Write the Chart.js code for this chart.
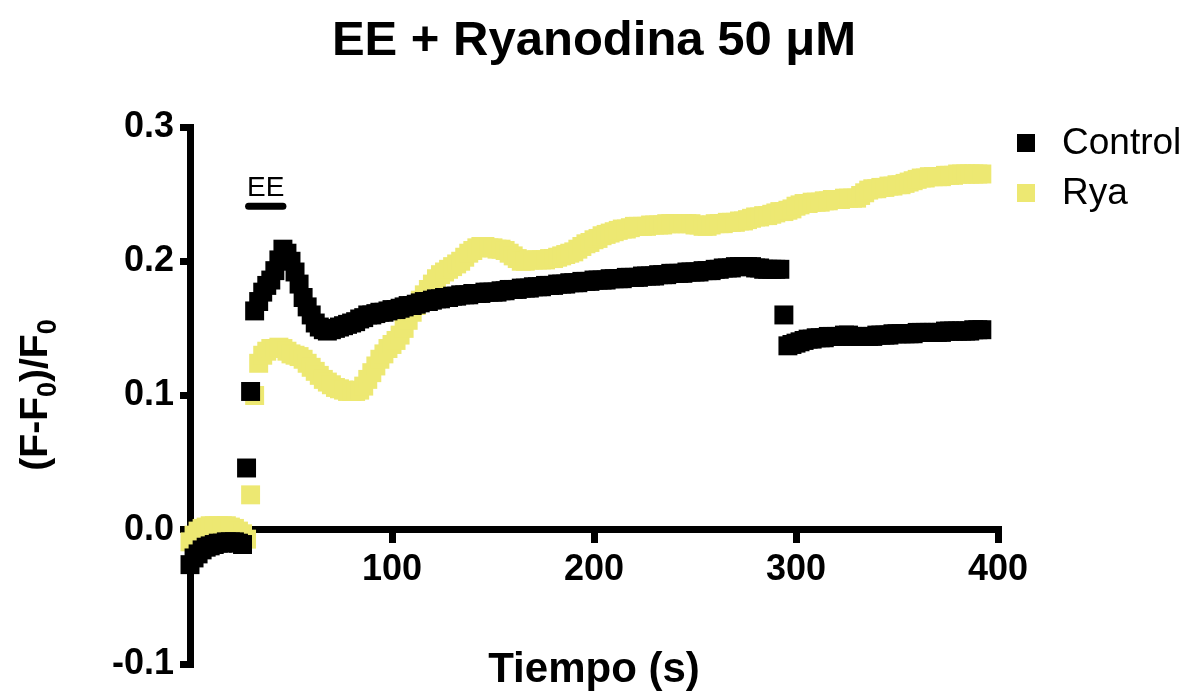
<!DOCTYPE html>
<html>
<head>
<meta charset="utf-8">
<title>EE + Ryanodina 50 μM</title>
<script src="https://cdn.jsdelivr.net/npm/chart.js@4.4.0/dist/chart.umd.min.js"></script>
<style>
    html, body { margin: 0; padding: 0; background: #fff; }
    #wrap { width: 1195px; height: 698px; position: relative; }
</style>
</head>
<body>
<div id="wrap"><canvas id="grafico"></canvas></div>
<script>
const titulo = 'EE + Ryanodina 50 μM';
const nombres = ['Control', 'Rya'];
const colores = ['#000000', '#ede872'];

// tiempo (s), one sample every 2 s
const tiempo = [
    0, 2, 4, 6, 8, 10, 12, 14, 16, 18,
    20, 22, 24, 26, 28, 30, 32, 34, 36, 38,
    40, 42, 44, 46, 48, 50, 52, 54, 56, 58,
    60, 62, 64, 66, 68, 70, 72, 74, 76, 78,
    80, 82, 84, 86, 88, 90, 92, 94, 96, 98,
    100, 102, 104, 106, 108, 110, 112, 114, 116, 118,
    120, 122, 124, 126, 128, 130, 132, 134, 136, 138,
    140, 142, 144, 146, 148, 150, 152, 154, 156, 158,
    160, 162, 164, 166, 168, 170, 172, 174, 176, 178,
    180, 182, 184, 186, 188, 190, 192, 194, 196, 198,
    200, 202, 204, 206, 208, 210, 212, 214, 216, 218,
    220, 222, 224, 226, 228, 230, 232, 234, 236, 238,
    240, 242, 244, 246, 248, 250, 252, 254, 256, 258,
    260, 262, 264, 266, 268, 270, 272, 274, 276, 278,
    280, 282, 284, 286, 288, 290, 292, 294, 296, 298,
    300, 302, 304, 306, 308, 310, 312, 314, 316, 318,
    320, 322, 324, 326, 328, 330, 332, 334, 336, 338,
    340, 342, 344, 346, 348, 350, 352, 354, 356, 358,
    360, 362, 364, 366, 368, 370, 372, 374, 376, 378,
    380, 382, 384, 386, 388, 390, 392
];

// (F-F0)/F0
const control = [
    -0.026, -0.021, -0.018, -0.015, -0.013, -0.012, -0.011, -0.010, -0.010, -0.009,
    -0.009, -0.009, -0.010, -0.011, 0.046, 0.103, 0.163, 0.170, 0.177, 0.182,
    0.186, 0.193, 0.201, 0.209, 0.206, 0.200, 0.192, 0.183, 0.173, 0.166,
    0.160, 0.154, 0.151, 0.149, 0.148, 0.149, 0.150, 0.151, 0.152, 0.153,
    0.154, 0.155, 0.157, 0.158, 0.160, 0.160, 0.161, 0.162, 0.162, 0.163,
    0.164, 0.164, 0.165, 0.166, 0.167, 0.167, 0.168, 0.169, 0.170, 0.170,
    0.171, 0.172, 0.172, 0.173, 0.173, 0.174, 0.174, 0.175, 0.175, 0.175,
    0.176, 0.176, 0.176, 0.177, 0.177, 0.177, 0.177, 0.178, 0.178, 0.179,
    0.179, 0.179, 0.180, 0.180, 0.180, 0.181, 0.181, 0.181, 0.182, 0.182,
    0.182, 0.183, 0.183, 0.183, 0.184, 0.184, 0.184, 0.185, 0.185, 0.185,
    0.186, 0.186, 0.186, 0.186, 0.187, 0.187, 0.187, 0.187, 0.188, 0.188,
    0.188, 0.188, 0.189, 0.189, 0.189, 0.189, 0.190, 0.190, 0.190, 0.191,
    0.191, 0.191, 0.191, 0.192, 0.192, 0.192, 0.192, 0.193, 0.193, 0.193,
    0.194, 0.194, 0.195, 0.195, 0.195, 0.196, 0.196, 0.196, 0.196, 0.196,
    0.195, 0.195, 0.194, 0.194, 0.194, 0.194, 0.194, 0.160, 0.137, 0.138,
    0.139, 0.140, 0.141, 0.142, 0.142, 0.143, 0.143, 0.143, 0.144, 0.144,
    0.144, 0.144, 0.145, 0.145, 0.144, 0.144, 0.144, 0.144, 0.144, 0.144,
    0.145, 0.145, 0.145, 0.145, 0.146, 0.146, 0.146, 0.146, 0.146, 0.146,
    0.147, 0.147, 0.147, 0.147, 0.147, 0.147, 0.147, 0.148, 0.148, 0.148,
    0.148, 0.148, 0.148, 0.148, 0.149, 0.149, 0.149
];

const rya = [
    -0.009, -0.004, -0.001, 0.001, 0.002, 0.003, 0.003, 0.003, 0.003, 0.003,
    0.002, 0.001, -0.001, -0.003, -0.007, 0.026, 0.100, 0.124, 0.130, 0.133,
    0.135, 0.135, 0.136, 0.135, 0.133, 0.131, 0.130, 0.129, 0.127, 0.124,
    0.121, 0.118, 0.115, 0.112, 0.110, 0.108, 0.106, 0.105, 0.104, 0.103,
    0.103, 0.103, 0.104, 0.107, 0.112, 0.117, 0.122, 0.127, 0.131, 0.135,
    0.138, 0.141, 0.145, 0.150, 0.156, 0.162, 0.167, 0.171, 0.175, 0.179,
    0.183, 0.187, 0.190, 0.192, 0.194, 0.196, 0.198, 0.200, 0.203, 0.206,
    0.208, 0.210, 0.211, 0.211, 0.210, 0.210, 0.209, 0.209, 0.208, 0.206,
    0.204, 0.202, 0.200, 0.200, 0.201, 0.201, 0.201, 0.201, 0.201, 0.202,
    0.202, 0.203, 0.204, 0.205, 0.206, 0.207, 0.209, 0.211, 0.213, 0.214,
    0.216, 0.217, 0.219, 0.220, 0.221, 0.222, 0.223, 0.224, 0.224, 0.225,
    0.226, 0.226, 0.226, 0.226, 0.227, 0.227, 0.227, 0.227, 0.228, 0.228,
    0.228, 0.228, 0.228, 0.228, 0.228, 0.227, 0.227, 0.226, 0.226, 0.227,
    0.228, 0.228, 0.228, 0.229, 0.229, 0.229, 0.230, 0.230, 0.231, 0.232,
    0.233, 0.233, 0.234, 0.234, 0.235, 0.236, 0.237, 0.237, 0.238, 0.239,
    0.241, 0.242, 0.243, 0.243, 0.244, 0.244, 0.244, 0.245, 0.245, 0.246,
    0.246, 0.246, 0.247, 0.247, 0.247, 0.247, 0.249, 0.251, 0.253, 0.254,
    0.254, 0.255, 0.255, 0.256, 0.256, 0.257, 0.257, 0.258, 0.259, 0.260,
    0.261, 0.262, 0.262, 0.263, 0.263, 0.263, 0.263, 0.264, 0.264, 0.264,
    0.265, 0.265, 0.265, 0.265, 0.265, 0.265, 0.265
];

const ticksX = [100, 200, 300, 400];
const ticksY = [-0.1, 0.0, 0.1, 0.2, 0.3];
// EE application (s) for the bar above the curves
const pulsoEE = [29, 46];
const nivelEE = 0.241;

const fuente = '"Liberation Sans", Arial, Helvetica, sans-serif';

const puntos = (serie) => serie.map((v, i) => ({ x: tiempo[i], y: v }));

// title, axis titles, legend and the EE mark
const textos = {
    id: 'textos',
    afterDraw(chart) {
        const { ctx, scales } = chart;
        const sx = scales.x;
        const sy = scales.y;
        ctx.save();
        ctx.fillStyle = '#000';
        ctx.strokeStyle = '#000';

        ctx.font = 'bold 49px ' + fuente;
        ctx.textAlign = 'center';
        ctx.textBaseline = 'alphabetic';
        ctx.fillText(titulo, 594, 55);

        ctx.font = 'bold 42px ' + fuente;
        ctx.fillText('Tiempo (s)', 594, 682);

        // y title with subscripts
        const partes = [['(F-F', false], ['0', true], [')/F', false], ['0', true]];
        const normal = 'bold 39px ' + fuente;
        const sub = 'bold 27px ' + fuente;
        let total = 0;
        for (const [t, s] of partes) {
            ctx.font = s ? sub : normal;
            total += ctx.measureText(t).width;
        }
        ctx.translate(47, 395);
        ctx.rotate(-Math.PI / 2);
        ctx.textAlign = 'left';
        let px = -total / 2;
        for (const [t, s] of partes) {
            ctx.font = s ? sub : normal;
            ctx.fillText(t, px, s ? 9 : 0);
            px += ctx.measureText(t).width;
        }
        ctx.setTransform(1, 0, 0, 1, 0, 0);

        // legend
        ctx.font = '37px ' + fuente;
        ctx.textBaseline = 'middle';
        nombres.forEach((n, i) => {
            const yy = 143 + i * 50;
            ctx.fillStyle = colores[i];
            ctx.fillRect(1017, yy - 9, 18, 18);
            ctx.fillStyle = '#000';
            ctx.fillText(n, 1062, yy + 1);
        });

        // EE bar
        const x0 = sx.getPixelForValue(pulsoEE[0]);
        const x1 = sx.getPixelForValue(pulsoEE[1]);
        const yb = sy.getPixelForValue(nivelEE);
        ctx.lineWidth = 7;
        ctx.lineCap = 'round';
        ctx.beginPath();
        ctx.moveTo(x0, yb);
        ctx.lineTo(x1, yb);
        ctx.stroke();
        ctx.font = '28px ' + fuente;
        ctx.textAlign = 'center';
        ctx.textBaseline = 'alphabetic';
        ctx.fillText('EE', (x0 + x1) / 2, yb - 10);
        ctx.restore();
    }
};

const ctx = document.getElementById('grafico').getContext('2d');
new Chart(ctx, {
    type: 'scatter',
    data: {
        datasets: [
            {
                label: nombres[0],
                data: puntos(control),
                backgroundColor: colores[0],
                borderWidth: 0,
                pointStyle: 'rect',
                pointRadius: 13.4,
                pointHoverRadius: 13.4,
                clip: false
            },
            {
                label: nombres[1],
                data: puntos(rya),
                backgroundColor: colores[1],
                borderWidth: 0,
                pointStyle: 'rect',
                pointRadius: 13.4,
                pointHoverRadius: 13.4,
                clip: false
            }
        ]
    },
    options: {
        responsive: true,
        maintainAspectRatio: false,
        animation: false,
        events: [],
        layout: { padding: { left: 0, top: 127, right: 197, bottom: 34 } },
        plugins: {
            legend: { display: false },
            tooltip: { enabled: false },
            title: { display: false }
        },
        scales: {
            x: {
                type: 'linear',
                position: { y: 0 },
                min: 0,
                max: 400,
                afterBuildTicks: (scale) => { scale.ticks = ticksX.map(v => ({ value: v })); },
                grid: { drawOnChartArea: false, drawTicks: true, tickLength: 10, lineWidth: 7, color: '#000' },
                border: { display: true, color: '#000', width: 7 },
                ticks: {
                    color: '#000',
                    padding: 9,
                    maxRotation: 0,
                    font: { family: fuente, size: 36, weight: 'bold' }
                }
            },
            y: {
                type: 'linear',
                position: 'left',
                min: -0.1,
                max: 0.3,
                afterBuildTicks: (scale) => { scale.ticks = ticksY.map(v => ({ value: v })); },
                afterFit: (scale) => { scale.width = 190; },
                grid: { drawOnChartArea: false, drawTicks: true, tickLength: 10, lineWidth: 7, color: '#000' },
                border: { display: true, color: '#000', width: 7 },
                ticks: {
                    color: '#000',
                    padding: 6,
                    font: { family: fuente, size: 36, weight: 'bold' },
                    callback: (v) => v.toFixed(1)
                }
            }
        }
    },
    plugins: [textos]
});
</script>
</body>
</html>
